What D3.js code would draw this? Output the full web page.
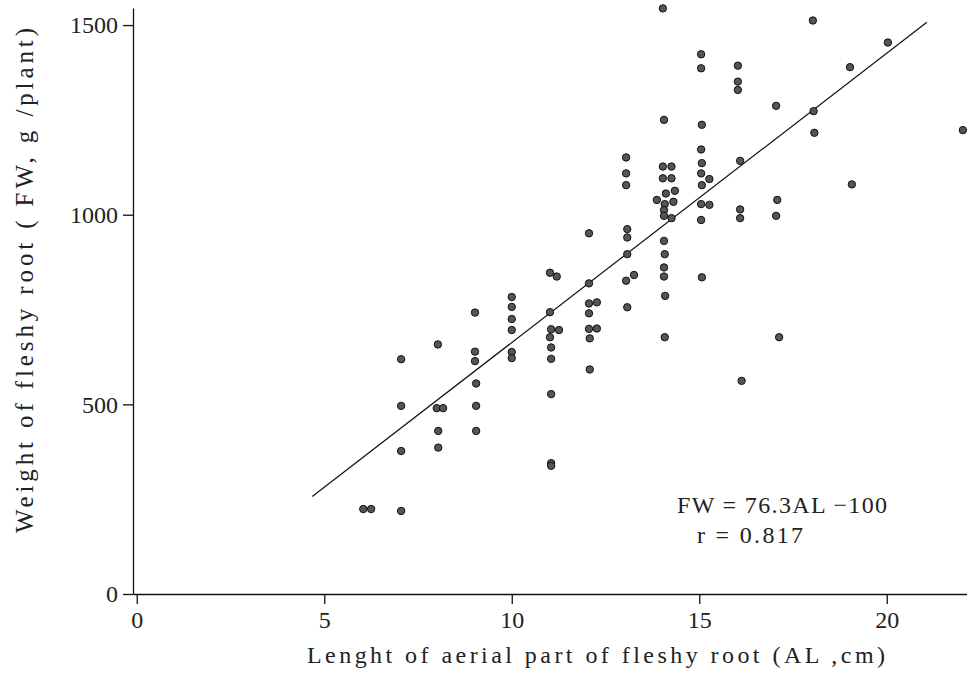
<!DOCTYPE html>
<html>
<head>
<meta charset="utf-8">
<script src="https://cdn.jsdelivr.net/npm/d3@7"></script>
<style>
  body { margin: 0; background: #fff; }
  svg { display: block; }
  text { font-family: "Liberation Serif", "DejaVu Serif", serif; fill: #222; }
</style>
</head>
<body>
<div id="chart"></div>
<script>
// Length of aerial part (AL, cm) and weight of fleshy root (FW, g/plant).
var lengthAL = [
  6.04, 6.25,
  7.05, 7.05, 7.05, 7.05,
  8.03, 8.0, 8.17, 8.04, 8.04,
  9.02, 9.02, 9.02, 9.05, 9.05, 9.05,
  10.0, 10.0, 10.0, 10.0, 10.0, 10.0,
  11.02, 11.2, 11.02, 11.05, 11.26, 11.02, 11.05, 11.05, 11.05, 11.05, 11.05,
  12.06, 12.06, 12.06, 12.27, 12.06, 12.06, 12.27, 12.08, 12.08,
  13.05, 13.05, 13.05, 13.08, 13.08, 13.08, 13.05, 13.26, 13.08,
  14.03, 14.06, 14.03, 14.26, 14.03, 14.26, 14.35, 14.11, 13.87, 14.08, 14.31,
  14.06, 14.06, 14.26, 14.06, 14.08, 14.06, 14.06, 14.09, 14.08,
  15.05, 15.05, 15.07, 15.05, 15.07, 15.05, 15.27, 15.07, 15.05, 15.27, 15.05, 15.07,
  16.03, 16.03, 16.03, 16.09, 16.09, 16.09, 16.13,
  17.05, 17.08, 17.05, 17.13,
  18.03, 18.05, 18.07,
  19.02, 19.07,
  20.03,
  22.03
];
var weightFW = [
  224, 224,
  619, 496, 377, 219,
  658, 490, 490, 430, 386,
  742, 639, 614, 555, 496, 430,
  783, 757, 725, 696, 638, 622,
  847, 837, 743, 698, 696, 677, 650, 620, 527, 345, 338,
  951, 819, 766, 769, 740, 699, 700, 674, 592,
  1151, 1109, 1078, 962, 940, 896, 826, 841, 756,
  1544, 1250, 1127, 1127, 1096, 1096, 1063, 1056, 1039, 1028, 1034,
  1012, 997, 991, 931, 896, 861, 837, 786, 677,
  1423, 1386, 1237, 1172, 1136, 1109, 1094, 1078, 1028, 1026, 986, 835,
  1393, 1351, 1329, 1142, 1014, 991, 562,
  1287, 1039, 997, 677,
  1512, 1273, 1216,
  1389, 1080,
  1454,
  1223
];

// Tick values.
var xTicks = [0, 5, 10, 15, 20];
var yTicks = [0, 500, 1000, 1500];

// Regression FW = 76.3 AL - 100, drawn over this range of AL.
var slope = 76.3;
var intercept = -100;
var lineRange = [4.68, 21.07];

var width = 967;
var height = 677;

var svg = d3.select("#chart")
    .append("svg")
    .attr("width", width)
    .attr("height", height);

// Scales (left edge of the plot sits just left of AL = 0).
var x = d3.scaleLinear()
    .domain([-0.1, 22.14])
    .range([133, 967]);

var y = d3.scaleLinear()
    .domain([0, 1545])
    .range([594, 8]);

// x-axis along the bottom.
var xAxis = d3.axisBottom(x)
    .tickValues(xTicks)
    .tickSize(10)
    .tickSizeOuter(0)
    .tickPadding(7)
    .tickFormat(d3.format("d"));

svg.append("g")
    .attr("transform", "translate(0," + y(0) + ")")
    .call(xAxis)
    .call(g => g.selectAll("text").style("font-size", "24px").attr("fill", "#222"));

// y-axis on the left.
var yAxis = d3.axisLeft(y)
    .tickValues(yTicks)
    .tickSize(10)
    .tickSizeOuter(0)
    .tickPadding(5)
    .tickFormat(d3.format("d"));

svg.append("g")
    .attr("transform", "translate(133,0)")
    .call(yAxis)
    .call(g => g.selectAll("text").style("font-size", "24px").attr("fill", "#222"));

svg.selectAll(".domain, .tick line")
    .attr("stroke", "#111")
    .attr("stroke-width", 1.3);

// Regression line.
svg.append("line")
    .attr("x1", x(lineRange[0]))
    .attr("y1", y(slope * lineRange[0] + intercept))
    .attr("x2", x(lineRange[1]))
    .attr("y2", y(slope * lineRange[1] + intercept))
    .attr("stroke", "#111")
    .attr("stroke-width", 1.2);

// Scatter points.
svg.selectAll("circle")
    .data(lengthAL)
    .enter()
    .append("circle")
    .attr("cx", d => x(d))
    .attr("cy", (d, i) => y(weightFW[i]))
    .attr("r", 3.7)
    .attr("fill", "#555")
    .attr("stroke", "#111")
    .attr("stroke-width", 1);

// Axis titles.
svg.append("text")
    .attr("x", 307)
    .attr("y", 663)
    .attr("textLength", 578)
    .attr("lengthAdjust", "spacing")
    .style("font-size", "24px")
    .text("Lenght of aerial part of fleshy root (AL ,cm)");

svg.append("text")
    .attr("transform", "translate(33,533) rotate(-90)")
    .attr("textLength", 505)
    .attr("lengthAdjust", "spacing")
    .style("font-size", "25px")
    .text("Weight of fleshy root ( FW, g /plant)");

// Equation and correlation.
svg.append("text")
    .attr("x", 677)
    .attr("y", 513)
    .attr("textLength", 210)
    .attr("lengthAdjust", "spacing")
    .style("font-size", "24px")
    .text("FW = 76.3AL \u2212100");

svg.append("text")
    .attr("x", 697)
    .attr("y", 543)
    .attr("textLength", 106)
    .attr("lengthAdjust", "spacing")
    .style("font-size", "24px")
    .text("r = 0.817");
</script>
</body>
</html>
